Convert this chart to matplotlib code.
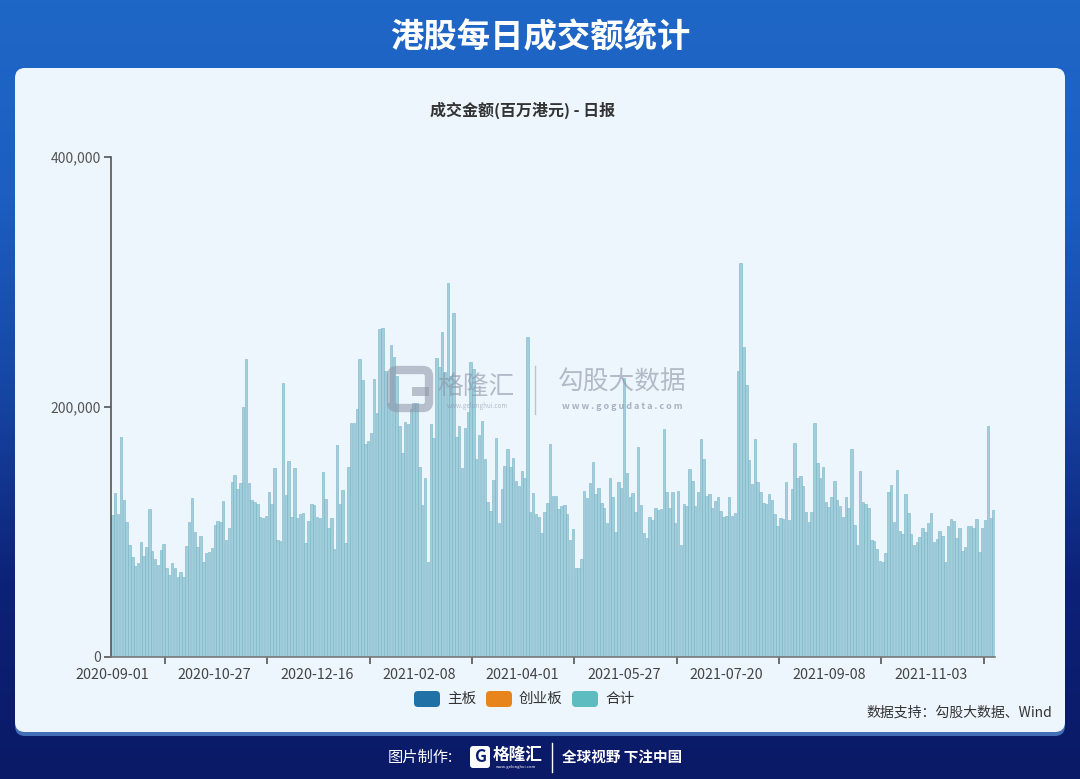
import matplotlib.pyplot as plt
import numpy as np
from matplotlib.patches import FancyBboxPatch, Rectangle
from matplotlib.colors import LinearSegmentedColormap
from matplotlib.ticker import FuncFormatter

plt.rcParams['font.family'] = ['Noto Sans CJK SC', 'DejaVu Sans']

# 港股每日成交额 (百万港元), trading days from 2020-09-01
turnover = [
    113600, 130900, 114100, 176300, 125600, 108300, 89600, 79700, 72800, 74900,
    92300, 80800, 88300, 118100, 84800, 78100, 73600, 85600, 90400, 71500,
    65600, 75500, 70900, 64300, 68300, 64300, 88800, 107700, 126900, 99700,
    87700, 96800, 76300, 83500, 84300, 86900, 105300, 108800, 108300, 124800,
    93600, 102900, 140300, 145600, 134100, 139500, 199700, 238400, 139500, 125600,
    124300, 122100, 112300, 111500, 113100, 131700, 122100, 150900, 93600, 93100,
    219500, 129600,
    157100, 112300, 151500, 110900, 114100, 115500, 91500, 108800, 122400, 121600,
    112300, 110900, 148300, 126100, 103500, 110900, 86100, 169600, 122400, 133600,
    90900, 152300, 187500, 187500, 198400, 238700, 221600, 170100, 172800, 179500,
    222400, 194900, 262100, 263500, 228800, 202900, 249600, 240300, 224800, 185000,
    163500, 188300, 186400, 198100, 202900, 203500, 151700, 121600, 143000, 76300,
    186400, 174900, 238900, 232000, 259700, 228000, 298900, 225000, 275500, 176300,
    185100, 150900,
    182900, 196300, 236300, 230100, 158400, 177600, 189100, 158100, 123700, 117100,
    141600, 175500, 106900, 134400, 153100, 166400, 151700, 158900, 141100, 136800,
    149100, 143500, 255700, 116300, 131500, 114400, 111700, 99500, 116300, 123500,
    170400, 128800, 128800, 118100, 120800, 121300, 114400, 93600, 102100, 70900,
    70900, 78100, 133100, 126900, 138900, 155700, 130100, 135500, 122900, 118900,
    107500, 143500, 127700, 100300, 140300, 134900, 222900, 147500, 128300, 131500,
    116300, 167700,
    121600, 98900, 94900, 112300, 109600, 118900, 117600, 118100, 182400, 132300,
    119500, 131700, 107500, 133100, 89600, 122400, 120800, 150100, 140800, 120800,
    131700, 174400, 158400, 129100, 130400, 118900, 125100, 128300, 117100, 112300,
    113100, 127700, 113100, 114900, 228800, 315500, 248300, 217600, 157600, 138100,
    174400, 140300, 131700, 122900, 122100, 130100, 125600, 114400, 104800, 111500,
    110100, 140300, 109600, 134100, 171500, 143500, 144800, 136800, 115700, 108300,
    116300, 187500, 154900,
    142900, 152300, 124300, 120300, 127700, 141100, 125600, 120800, 112300, 127700,
    119500, 166100, 105600, 89600, 148800, 124300, 122100, 118900, 93600, 93100,
    86400, 76800, 76300, 82900, 131700, 137600, 107700, 149600, 100800, 98100,
    130400, 114900, 98100, 89600, 92300, 96300, 103500, 100300, 107500, 115500,
    91700, 94400, 100800, 97100, 75700, 104800, 110100, 108800, 95500, 102900,
    85100, 88300, 104800, 104800, 102900, 110100, 84300, 102900, 109600, 185100,
    111500, 117600,
]

date_labels = ['2020-09-01', '2020-10-27', '2020-12-16', '2021-02-08', '2021-04-01',
               '2021-05-27', '2021-07-20', '2021-09-08', '2021-11-03']
label_step = 36
y_ticks = [0, 200000, 400000]

series_names = ['主板', '创业板', '合计']
series_colors = ['#2072a6', '#e8841c', '#5cbcc0']

W, H = 1080, 779
fig = plt.figure(figsize=(W / 100, H / 100), dpi=100)

# background layer in pixel coordinates
bg = fig.add_axes([0, 0, 1, 1], zorder=0)
bg.set_xlim(0, W)
bg.set_ylim(H, 0)
bg.axis('off')
grad = np.linspace(0, 1, 256).reshape(-1, 1)
cmap = LinearSegmentedColormap.from_list('bg', ['#1f67c7', '#1c5ec2', '#1646a4', '#0d2178', '#0a1a66'])
bg.imshow(grad, aspect='auto', cmap=cmap, extent=[0, W, H, 0], zorder=0)

# glow under the panel and the panel itself
bg.add_patch(FancyBboxPatch((15, 70), 1050, 666, boxstyle='round,pad=0,rounding_size=10',
                            facecolor='#6aa8ea', edgecolor='none', alpha=0.6, zorder=1))
bg.add_patch(FancyBboxPatch((15, 68), 1050, 664, boxstyle='round,pad=0,rounding_size=10',
                            facecolor='#eef6fd', edgecolor='none', zorder=2))

bg.text(540, 38, '港股每日成交额统计', color='white', fontsize=24, fontweight='bold',
        ha='center', va='center', zorder=3)
bg.text(523, 110, '成交金额(百万港元) - 日报', color='#333333', fontsize=11.5, fontweight='bold',
        ha='center', va='center', zorder=3)

# legend
legend_x = [414, 486, 572]
for name, color, lx in zip(series_names, series_colors, legend_x):
    bg.add_patch(FancyBboxPatch((lx, 691), 26, 16, boxstyle='round,pad=0,rounding_size=4',
                                facecolor=color, edgecolor='none', zorder=3))
    bg.text(lx + 33, 699, name, color='#333333', fontsize=10.5, ha='left', va='center', zorder=3)

bg.text(1052, 713, '数据支持：勾股大数据、Wind', color='#333333', fontsize=10,
        ha='right', va='center', zorder=3)

# footer
bg.text(388, 757, '图片制作:', color='white', fontsize=11, ha='left', va='center', zorder=3)
bg.add_patch(FancyBboxPatch((470, 746), 20, 22, boxstyle='round,pad=0,rounding_size=3',
                            facecolor='white', edgecolor='none', zorder=3))
bg.text(480, 757, 'G', color='#0b1d70', fontsize=12, fontweight='heavy',
        ha='center', va='center', zorder=4)
bg.text(493, 755, '格隆汇', color='white', fontsize=12, fontweight='bold',
        ha='left', va='center', zorder=3)
bg.text(516, 767, 'www.gelonghui.com', color='white', fontsize=3, ha='center', va='center', zorder=3)
bg.plot([552, 552], [743, 772], color='white', lw=1, zorder=3)
bg.text(562, 757, '全球视野 下注中国', color='white', fontsize=10.5, fontweight='bold',
        ha='left', va='center', zorder=3)

# chart
ax = fig.add_axes([111 / W, 1 - 657 / H, 884 / W, 500 / H], zorder=2)
ax.patch.set_alpha(0)
x = np.arange(len(turnover))
ax.bar(x, turnover, width=0.86, color='#a0cedb', edgecolor='#79b4c6', linewidth=0.4)

ax.set_xlim(-0.5, len(turnover) - 0.5)
ax.set_ylim(0, 400000)
ax.set_yticks(y_ticks)
ax.yaxis.set_major_formatter(FuncFormatter(lambda v, p: f'{int(v):,}'))
ax.set_xticks(np.arange(len(date_labels)) * label_step)
ax.set_xticklabels(date_labels)
ax.set_xticks(np.arange(len(date_labels)) * label_step + label_step / 2 + 0.5, minor=True)
ax.tick_params(axis='x', which='major', length=0, pad=8, labelsize=10.3, labelcolor='#444444')
ax.tick_params(axis='x', which='minor', length=5, width=1.2, color='#555555')
ax.tick_params(axis='y', length=5, width=1.2, color='#555555', pad=2, labelsize=10,
               labelcolor='#555555')
for s in ['top', 'right']:
    ax.spines[s].set_visible(False)
ax.spines['left'].set_color('#555555')
ax.spines['left'].set_linewidth(1.2)
ax.spines['bottom'].set_color('#777777')
ax.spines['bottom'].set_linewidth(1.2)

# watermark over the bars
wm = fig.add_axes([0, 0, 1, 1], zorder=3)
wm.set_xlim(0, W)
wm.set_ylim(H, 0)
wm.axis('off')
wm.add_patch(FancyBboxPatch((391, 370), 38, 38, boxstyle='round,pad=0,rounding_size=6',
                            facecolor='none', edgecolor='#8b93a6', linewidth=6, alpha=0.55))
wm.add_patch(Rectangle((412, 387), 17, 9, facecolor='#8b93a6', edgecolor='none', alpha=0.55))
wm.text(437, 387, '格隆汇', color='#8b93a6', fontsize=18.5, alpha=0.6, ha='left', va='center')
wm.text(477, 406, 'www.gelonghui.com', color='#8b93a6', fontsize=4.5, alpha=0.6,
        ha='center', va='center')
wm.plot([535, 535], [366, 414], color='#9aa2b3', lw=1, alpha=0.6)
wm.text(622, 383, '勾股大数据', color='#8b93a6', fontsize=18.5, alpha=0.6, ha='center', va='center')
wm.text(622, 406, 'w w w . g o g u d a t a . c o m', color='#8b93a6', fontsize=6.5,
        alpha=0.7, ha='center', va='center', fontweight='bold')

fig.savefig('out.png', dpi=100)
